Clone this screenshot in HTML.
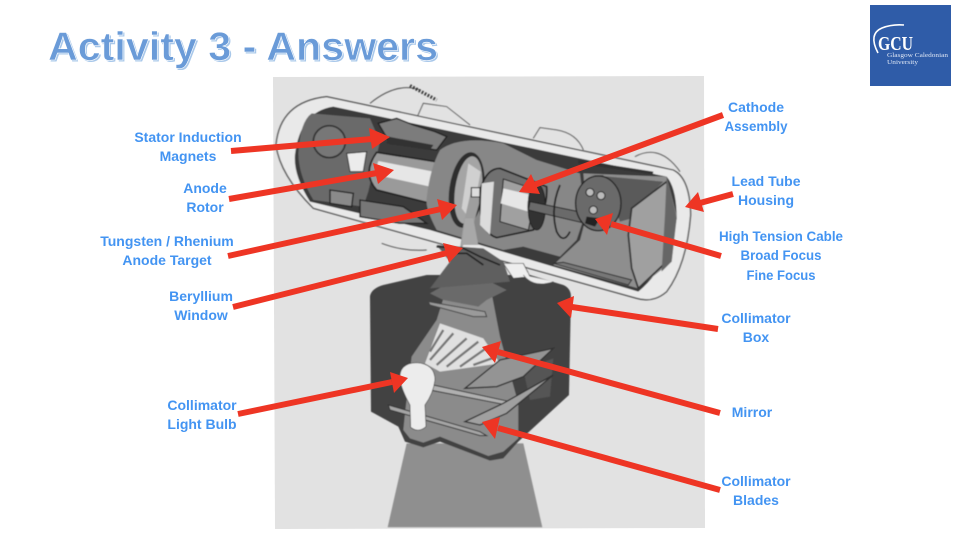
<!DOCTYPE html>
<html><head><meta charset="utf-8"><style>
html,body{margin:0;padding:0;background:#fff;width:960px;height:540px;overflow:hidden}
svg{display:block}
.l{font-family:"Liberation Sans",sans-serif;font-weight:bold;font-size:14px;fill:#4394f2;text-anchor:middle}
</style></head><body>
<svg width="960" height="540" viewBox="0 0 960 540" xmlns="http://www.w3.org/2000/svg">
<defs><filter id="b" x="-5%" y="-5%" width="110%" height="110%"><feGaussianBlur stdDeviation="0.45"/></filter></defs>
<rect width="960" height="540" fill="#fff"/>
<polygon points="273,77 704,76 705,528 275,529" fill="#e2e2e2"/>
<g filter="url(#b)">
<g transform="translate(270,270) scale(.3333)">
<polygon points="410,520 760,520 817,772 353,772" fill="#8f8f8f"/>
<path d="M300,78 Q305,55 340,45 L470,15 L780,15 L880,45 Q903,55 903,80 L897,375 L745,515 L700,565 L660,572 L510,515 L460,532 L405,515 L385,470 L303,425 Z" fill="#434343"/>
<polygon points="525,70 665,70 690,200 745,400 745,505 700,545 655,558 510,500 460,518 420,505 400,480 405,430 425,260 500,150" fill="#8b8b8b"/>
<polygon points="480,70 560,25 650,30 710,60 650,90 625,110 520,90" fill="#6b6b6b"/>
<polygon points="475,95 645,125 650,140 610,140 480,105" fill="#9a9a9a" stroke="#444" stroke-width="3"/>
<polygon points="510,160 640,205 690,280 510,305 465,280" fill="#e0e0e0"/>
<path d="M480,245L520,180M480,270L550,190M500,285L590,205M530,290L625,215M570,290L655,230M610,285L680,260" stroke="#777" stroke-width="7"/>
<polygon points="760,300 850,265 840,380 780,390" fill="#555"/>
<polygon points="585,355 690,270 850,235 760,320 680,350" fill="#949494" stroke="#333" stroke-width="4"/>
<polygon points="490,345 720,395 710,405 480,360" fill="#b0b0b0" stroke="#333" stroke-width="3"/>
<polygon points="585,455 700,400 850,315 710,430 630,465" fill="#a0a0a0" stroke="#333" stroke-width="4"/>
<polygon points="355,405 630,485 650,497 630,497 360,420" fill="#a5a5a5" stroke="#333" stroke-width="3"/>
<path d="M390,330 Q385,280 440,278 Q495,282 495,330 Q490,370 465,405 L468,470 Q445,490 422,472 L420,405 Q395,360 390,330Z" fill="#ececec" stroke="#444" stroke-width="2"/>
</g>
<g transform="translate(270,75) scale(.3333)">
<path d="M300,85 Q380,20 450,45" fill="none" stroke="#555" stroke-width="3"/>
<path d="M420,32L500,75" stroke="#333" stroke-width="10" stroke-dasharray="5 5"/>
<path d="M440,130L460,85L530,95L600,150M790,190L810,158L860,165Q920,175 940,225M1095,245Q1170,205 1230,290" fill="#e2e2e2" stroke="#555" stroke-width="3"/>
<path d="M170,65 L1210,285 Q1260,310 1262,420 Q1250,570 1190,650 Q1150,685 1100,670 L130,400 Q30,300 18,210 Q30,80 170,65Z" fill="#e9e9e9" stroke="#555" stroke-width="4"/>
<path d="M190,95 L1190,305 Q1220,340 1220,430 Q1200,570 1105,650 L850,575 L480,465 L120,380 Q70,300 75,240 Q90,110 190,95Z" fill="#3a3a3a"/>
<path d="M125,115 L300,130 L330,200 L295,350 L280,395 L130,375 Q85,300 85,235 Q90,140 125,115Z" fill="#6a6a6a"/>
<circle cx="178" cy="200" r="48" fill="#777" stroke="#333" stroke-width="5"/>
<path d="M325,145L380,130L430,150L495,170L530,185L500,225L360,205Z" fill="#7c7c7c" stroke="#222" stroke-width="4"/>
<polygon points="355,185 490,210 480,225 350,205" fill="#333"/>
<polygon points="230,235 290,230 280,290 240,290" fill="#ececec" stroke="#333" stroke-width="3"/>
<path d="M320,232 L510,262 Q535,310 480,385 L320,345 Q275,295 320,232Z" fill="#9a9a9a" stroke="#222" stroke-width="5"/>
<polygon points="325,258 490,290 480,335 312,298" fill="#e6e6e6"/>
<polygon points="500,305 530,315 525,335 495,330" fill="#ddd" stroke="#222" stroke-width="3"/>
<polygon points="180,345 250,355 245,395 180,385" fill="#8a8a8a" stroke="#222" stroke-width="4"/>
<polygon points="270,375 400,395 470,445 390,445 270,425" fill="#777" stroke="#222" stroke-width="4"/>
<path d="M510,225 Q570,180 700,205 L800,255 L930,295 L945,420 L920,495 L870,545 L760,515 L700,525 L500,465 Q465,400 470,370 Q480,280 510,225Z" fill="#878787"/>
<ellipse cx="590" cy="345" rx="52" ry="114" transform="rotate(8 590 345)" fill="#2f2f2f"/>
<ellipse cx="595" cy="345" rx="40" ry="102" transform="rotate(8 595 345)" fill="#a5a5a5"/>
<polygon points="595,265 632,290 605,440 575,400" fill="#d0d0d0"/>
<polygon points="605,340 640,340 610,450 575,520 625,525 570,520 580,450" fill="#9e9e9e"/>
<polygon points="585,430 610,430 625,510 575,510" fill="#a8a8a8"/>
<rect x="604" y="338" width="26" height="28" fill="#ddd" stroke="#222" stroke-width="3"/>
<path d="M690,280 L830,335 Q835,400 790,465 L680,488 Q620,470 632,340 Q650,280 690,280Z" fill="#707070" stroke="#222" stroke-width="5"/>
<polygon points="635,325 672,320 660,480 630,450" fill="#dcdcdc"/>
<polygon points="700,312 800,345 775,465 690,440" fill="#a0a0a0" stroke="#222" stroke-width="3"/>
<polygon points="700,340 785,360 775,410 692,385" fill="#e6e6e6"/>
<ellipse cx="800" cy="395" rx="26" ry="70" fill="#333" stroke="#222" stroke-width="3"/>
<polygon points="780,380 950,415 945,445 775,405" fill="#6a6a6a" stroke="#222" stroke-width="3"/>
<path d="M870,330 Q840,400 860,470 Q880,510 900,470" fill="none" stroke="#222" stroke-width="5"/>
<polygon points="940,295 1190,305 1220,420 1205,560 1105,640 850,570 930,495 950,420" fill="#8e8e8e"/>
<polygon points="925,255 1150,290 1148,298 925,265" fill="#333"/>
<polygon points="960,300 1180,320 1110,390 1085,430 1050,440 1000,300" fill="#5a5a5a"/>
<path d="M1085,400L1190,320L1215,420L1190,560L1105,640L1085,580L1075,480Z" fill="#a0a0a0" stroke="#333" stroke-width="5"/>
<path d="M1190,305 L1220,430 L1205,560 L1175,590 L1185,420Z" fill="#666"/>
<ellipse cx="985" cy="385" rx="68" ry="82" fill="#6b6b6b" stroke="#222" stroke-width="4"/>
<circle cx="960" cy="352" r="12" fill="#bbb" stroke="#222" stroke-width="3"/>
<circle cx="993" cy="362" r="12" fill="#bbb" stroke="#222" stroke-width="3"/>
<circle cx="970" cy="405" r="12" fill="#bbb" stroke="#222" stroke-width="3"/>
<polygon points="950,425 990,430 975,455 945,445" fill="#222"/>
<path d="M850,565L880,562L1085,615L1075,630Z" fill="#777" stroke="#333" stroke-width="3"/>
<polygon points="700,565 760,565 780,605 730,610" fill="#eee" stroke="#333" stroke-width="2"/>
<path d="M760,600 Q790,640 850,620" fill="#ececec" stroke="#555" stroke-width="2"/>
<path d="M335,505 Q400,530 470,525" fill="none" stroke="#555" stroke-width="3"/>
<path d="M500,510 L640,520 L700,560 L720,620 L480,640 L540,560Z" fill="#5e5e5e"/>
<path d="M500,515L580,520L630,545L690,570M520,535L590,535L640,570" fill="none" stroke="#222" stroke-width="5"/>
</g>
</g>
<g fill="none" stroke="#ee3524" stroke-width="6">
<path d="M231,151L372,139M229,199L377,173M228,256L441,209M233,307L447,253M723,115L534,185M733,194L700,203M721,256L611,224M718,329L572,307M720,413L498,352M720,490L498,428M238,414L392,382"/>
</g>
<g fill="#ee3524">
<polygon points="390,137 372,149 369,128"/>
<polygon points="394,170 378,184 373,163"/>
<polygon points="457,205 442,220 437,199"/>
<polygon points="463,248 449,263 443,243"/>
<polygon points="519,192 531,174 540,194"/>
<polygon points="685,207 698,192 704,212"/>
<polygon points="595,219 613,213 607,235"/>
<polygon points="557,303 574,296 571,318"/>
<polygon points="482,347 501,341 495,363"/>
<polygon points="482,422 500,417 495,439"/>
<polygon points="408,378 394,393 390,372"/>
</g>
<g>
<text class="l" x="188" y="142">Stator Induction</text><text class="l" x="188" y="161">Magnets</text>
<text class="l" x="205" y="193">Anode</text><text class="l" x="205" y="212">Rotor</text>
<text class="l" x="167" y="246">Tungsten / Rhenium</text><text class="l" x="167" y="265">Anode Target</text>
<text class="l" x="201" y="301">Beryllium</text><text class="l" x="201" y="320">Window</text>
<text class="l" x="202" y="410">Collimator</text><text class="l" x="202" y="429">Light Bulb</text>
<text class="l" x="756" y="112">Cathode</text><text class="l" x="756" y="131" textLength="63" lengthAdjust="spacingAndGlyphs">Assembly</text>
<text class="l" x="766" y="186">Lead Tube</text><text class="l" x="766" y="205">Housing</text>
<text class="l" x="781" y="241" textLength="124" lengthAdjust="spacingAndGlyphs">High Tension Cable</text><text class="l" x="781" y="260" textLength="81" lengthAdjust="spacingAndGlyphs">Broad Focus</text><text class="l" x="781" y="280" textLength="69" lengthAdjust="spacingAndGlyphs">Fine Focus</text>
<text class="l" x="756" y="323">Collimator</text><text class="l" x="756" y="342">Box</text>
<text class="l" x="752" y="417">Mirror</text>
<text class="l" x="756" y="486">Collimator</text><text class="l" x="756" y="505">Blades</text>
</g>
<text x="48" y="60" font-family="'Liberation Sans',sans-serif" font-weight="bold" font-size="40" textLength="390" lengthAdjust="spacingAndGlyphs" fill="#a9c8ea" transform="translate(1.5,1.5)">Activity 3 - Answers</text>
<text x="48" y="60" font-family="'Liberation Sans',sans-serif" font-weight="bold" font-size="40" textLength="390" lengthAdjust="spacingAndGlyphs" fill="#6a9bd8" stroke="#fff" stroke-width=".6">Activity 3 - Answers</text>
<rect x="870" y="5" width="81" height="81" fill="#2f5ca8"/>
<path d="M878,53 Q868,34 882,28 Q892,24 904,25" fill="none" stroke="#fff" stroke-width="1.6"/>
<text x="878" y="50" font-family="'Liberation Serif',serif" font-weight="bold" font-size="20" fill="#fff" textLength="35" lengthAdjust="spacingAndGlyphs">GCU</text>
<text x="887" y="57" font-family="'Liberation Serif',serif" font-size="6.5" fill="#dfe7f5" textLength="61" lengthAdjust="spacingAndGlyphs">Glasgow Caledonian</text>
<text x="887" y="64" font-family="'Liberation Serif',serif" font-size="6.5" fill="#dfe7f5" textLength="31" lengthAdjust="spacingAndGlyphs">University</text>
</svg>
</body></html>
